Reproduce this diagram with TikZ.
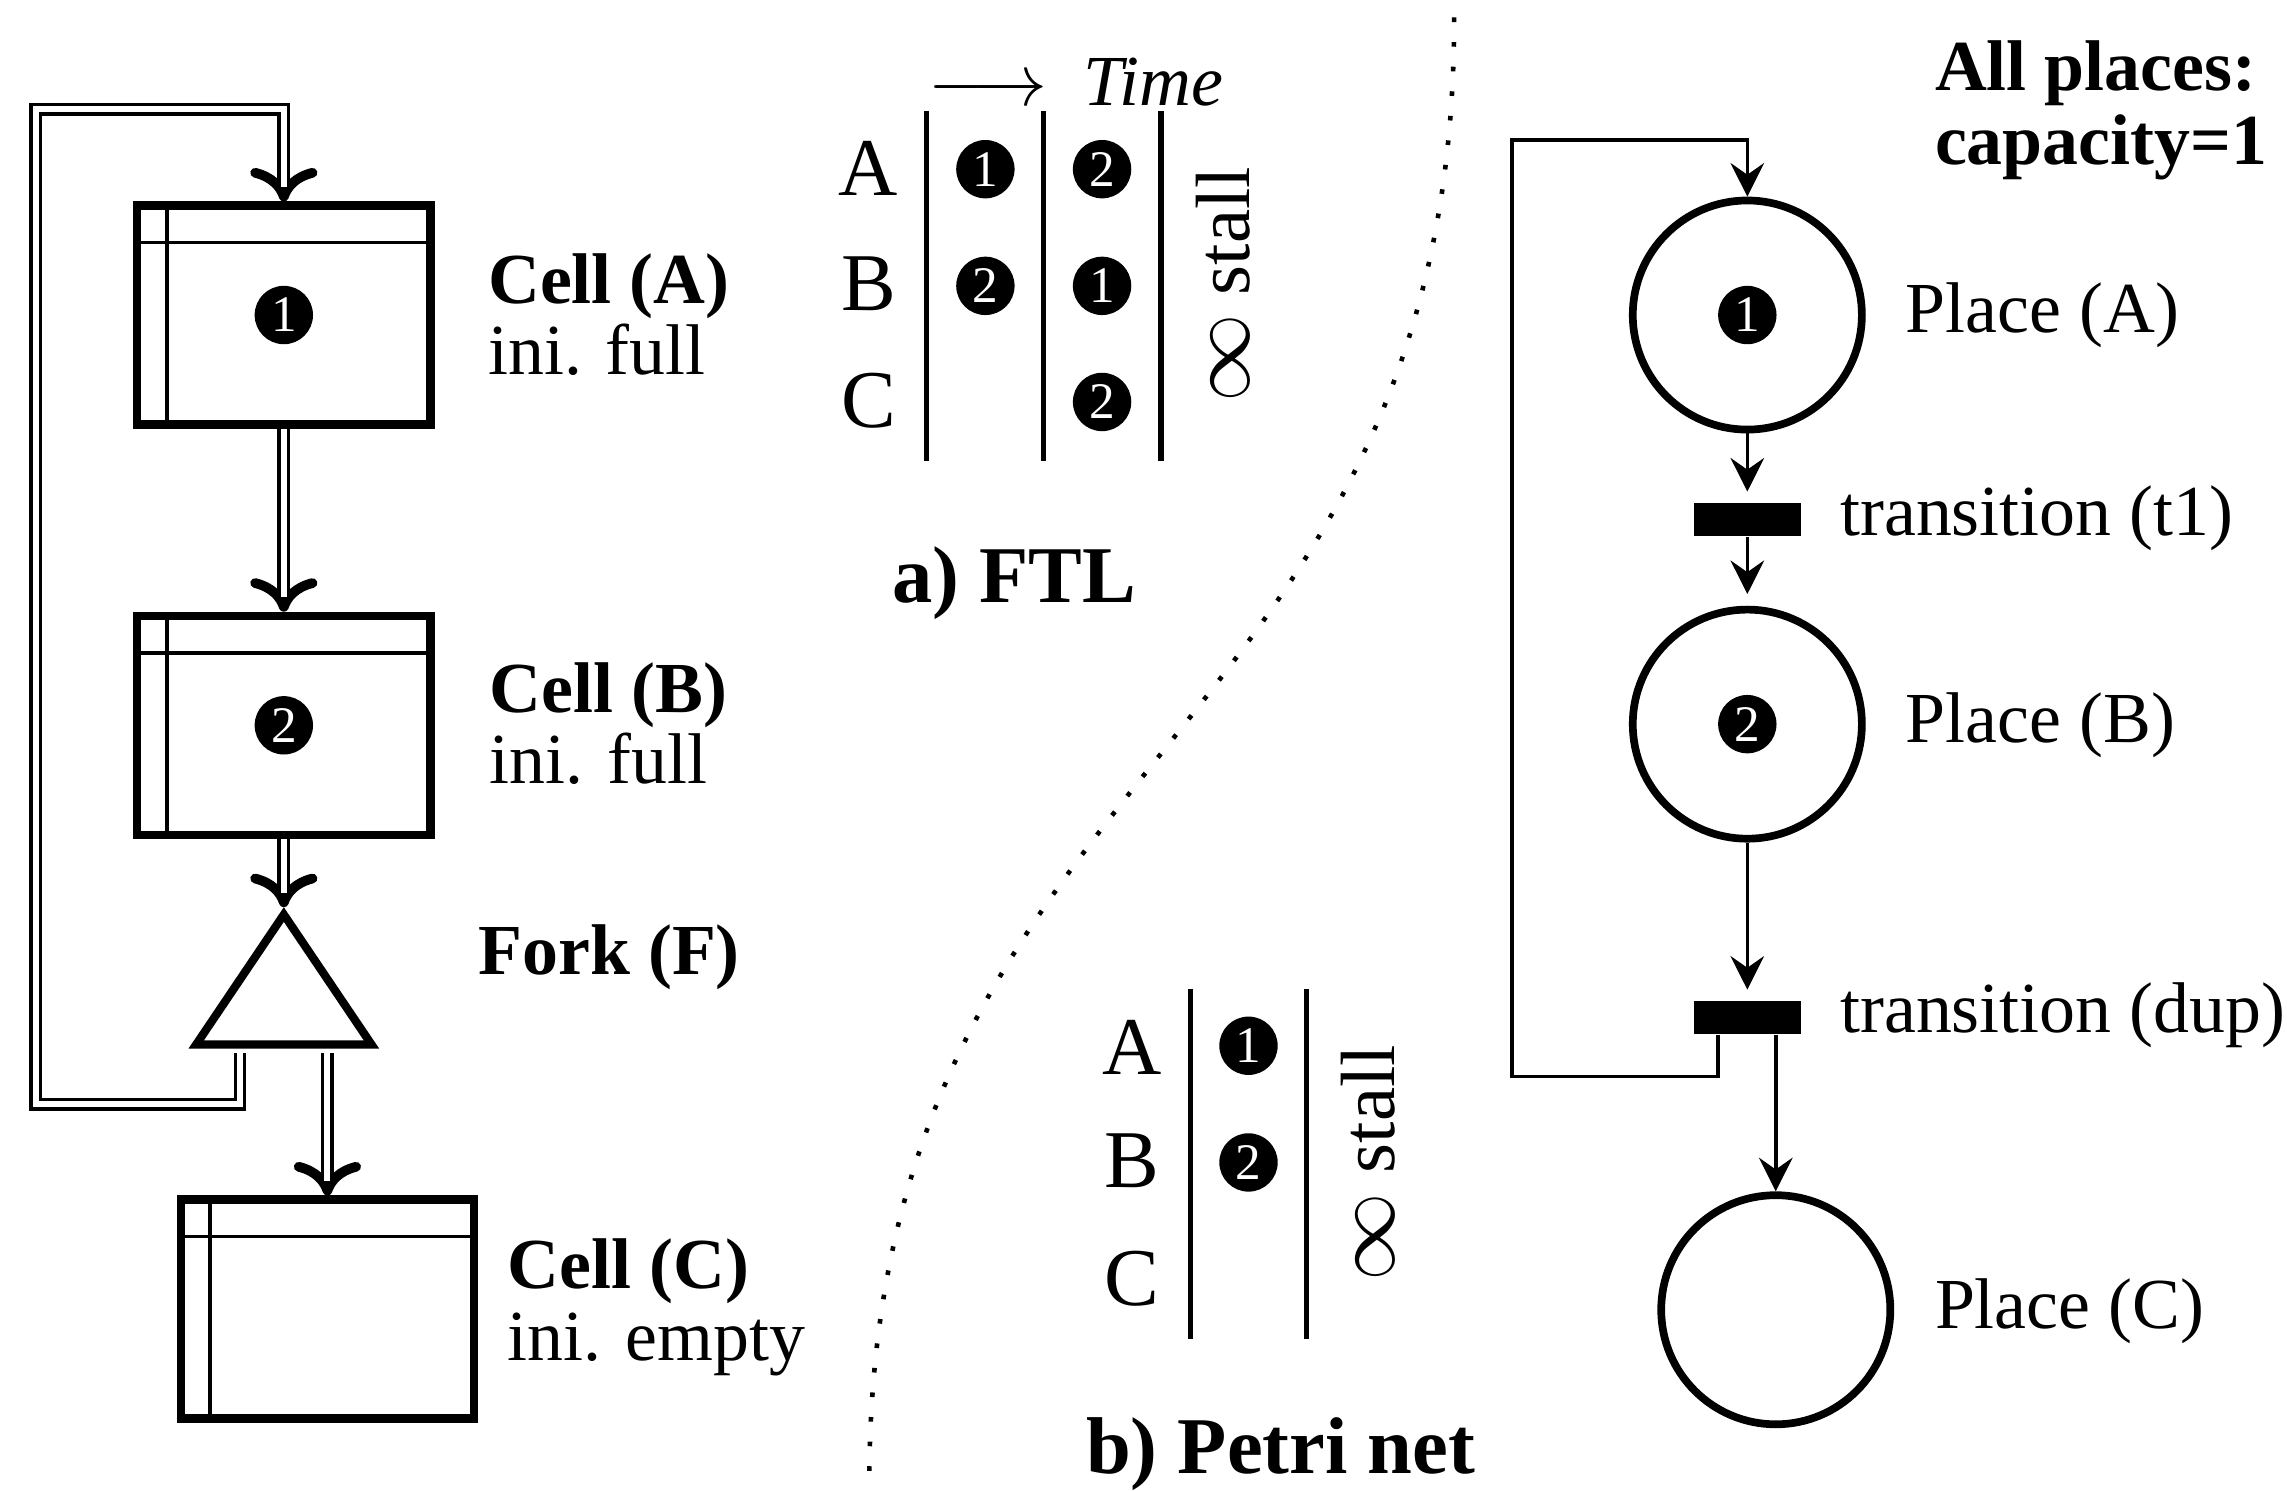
\documentclass[tikz,border=0pt]{standalone}
\usepackage{fontspec}
\setmainfont{Liberation Serif}
\usepackage{tikz}
\usetikzlibrary{arrows.meta,positioning,calc,shapes.geometric}

\tikzset{
  cell/.style={draw, line width=1.6pt, minimum width=2.01cm, minimum height=1.5cm, inner sep=0pt,
    path picture={
      \draw[line width=0.75pt] ([xshift=0.203cm]path picture bounding box.north west) -- ([xshift=0.203cm]path picture bounding box.south west);
      \draw[line width=0.75pt] ([yshift=-0.253cm]path picture bounding box.north west) -- ([yshift=-0.253cm]path picture bounding box.north east);
    }},
  fork/.style={draw, line width=1.6pt, isosceles triangle, isosceles triangle apex angle=68,
    shape border rotate=90, minimum size=0.89cm, inner sep=0pt},
  token/.style={circle, fill=black, text=white, minimum size=0.4cm, inner sep=0pt,
    font=\fontsize{10}{10}\selectfont},
  placenode/.style={circle, draw, line width=1.5pt, minimum size=1.57cm, inner sep=0pt},
  transnode/.style={rectangle, fill=black, minimum width=0.735cm, minimum height=0.225cm, inner sep=0pt},
  lbl/.style={anchor=base west, inner sep=0pt, align=left, font=\fontsize{14}{14}\selectfont},
  rowlab/.style={anchor=base, inner sep=0pt, font=\fontsize{16}{16}\selectfont},
  stall/.style={rotate=90, anchor=base west, inner sep=0pt, font=\fontsize{15}{15}\selectfont},
  sublabel/.style={anchor=base west, inner sep=0pt, font=\fontsize{15.7}{16}\selectfont\bfseries},
  dbl/.style={line width=2.5pt, -{To[length=2.3mm, width=4.6mm, line width=1.9pt, round]},
    postaction={draw=white, line width=1.15pt, -, shorten >=2.8pt}},
  pn/.style={line width=0.7pt, -{Stealth[length=2.3mm, width=2.3mm, inset=0.8mm]}},
  tabrule/.style={line width=1pt},
  divider/.style={line width=0.9pt, dash pattern=on 0.9pt off 3.9pt}
}

\begin{document}
\begin{tikzpicture}[x=0.01cm, y=-0.01cm]
  \useasboundingbox (0,0) rectangle (1568,1022);

  % cells and fork
  \node[cell] (cellA) at (194.6,216) {};
  \node[token] (tokA) at (cellA) {1};
  \node[cell] (cellB) at (194.6,497.3) {};
  \node[token] (tokB) at (cellB) {2};
  \node[fork, anchor=apex] (fork) at (194.6,622) {};
  \node[cell] (cellC) at (224.5,897.5) {};
  \coordinate (fbBL) at (24.5,757);
  \coordinate (fbTR) at (194.6,75);

  \node[lbl] (labA) at (334,257) {\textbf{Cell (A)}\\ini. full};
  \node[lbl] (labB) at (335,537.5) {\textbf{Cell (B)}\\ini. full};
  \node[lbl] (labF) at (327.4,668) {\textbf{Fork (F)}};
  \node[lbl] (labC) at (347.5,932.5) {\textbf{Cell (C)}\\ini. empty};

  \draw[dbl] (cellA) -- (cellB);
  \draw[dbl] (cellB) -- (fork.apex);
  \draw[dbl] ($(fork.lower side -| cellC.north)+(0,3)$) -- (cellC);
  \draw[dbl] ($(fork.lower side)+(-30,3)$) |- (fbBL) |- (fbTR) -- (cellA);

  % table a) FTL
  \draw[tabrule] (635,76) -- (635,316);
  \draw[tabrule] (715.4,76) -- (715.4,316);
  \draw[tabrule] (796,76) -- (796,316);
  \foreach \r/\y in {A/134,B/213,C/293}
    \node[rowlab] (ftl\r) at (595.5,\y) {\r};
  \foreach \n/\x/\y [count=\i] in {1/675.6/116, 2/675.6/196, 2/755.6/116, 1/755.6/196, 2/755.6/275.6}
    \node[token] (ftltok\i) at (\x,\y) {\n};
  \node[lbl] (time) at (635.8,72) {$\longrightarrow$\hspace{0.25cm}\textit{Time}};
  \node[stall] (ftlstall) at (857,277) {{\fontsize{18}{18}\selectfont$\infty$} stall};
  \node[sublabel] (ftlcap) at (611,413) {a) FTL};

  % table b) Petri net
  \draw[tabrule] (816,678) -- (816,918);
  \draw[tabrule] (896,678) -- (896,918);
  \foreach \r/\y in {A/736.6,B/814.5,C/895}
    \node[rowlab] (pn\r) at (776,\y) {\r};
  \node[token] (pntok1) at (856,717) {1};
  \node[token] (pntok2) at (856,797) {2};
  \node[stall] (pnstall) at (956,879) {{\fontsize{18}{18}\selectfont$\infty$} stall};
  \node[sublabel] (pncap) at (744,1010) {b) Petri net};

  % divider
  \draw[divider] (997,12) .. controls (997,518) and (596,515) .. (596,1018);

  % petri net
  \node[placenode] (placeA) at (1198,216) {};
  \node[token] (tokPA) at (placeA) {1};
  \node[transnode] (t1) at (1198,356) {};
  \node[placenode] (placeB) at (1198,496.5) {};
  \node[token] (tokPB) at (placeB) {2};
  \node[transnode] (dup) at (1198,697.5) {};
  \node[placenode] (placeC) at (1217.5,898) {};
  \coordinate (pfBL) at (1036.5,738);
  \coordinate (pfTR) at (1198,96);

  \node[lbl] (labPA) at (1306,228) {Place (A)};
  \node[lbl] (labt1) at (1261,367) {transition (t1)};
  \node[lbl] (labPB) at (1306,509) {Place (B)};
  \node[lbl] (labdup) at (1261,708) {transition (dup)};
  \node[lbl] (labPC) at (1326,911) {Place (C)};
  \node[lbl, font=\fontsize{14}{14.5}\selectfont\bfseries] (capnote) at (1326,113) {All places:\\capacity=1};

  \draw[pn, shorten >=0.07cm] (placeA) -- (t1);
  \draw[pn, shorten >=0.08cm] (t1) -- (placeB);
  \draw[pn, shorten >=0.07cm] (placeB) -- (dup);
  \draw[pn] (dup.south -| placeC.north) -- (placeC);
  \draw[pn] ([xshift=-0.2cm]dup.south) |- (pfBL) |- (pfTR) -- (placeA);
\end{tikzpicture}
\end{document}
